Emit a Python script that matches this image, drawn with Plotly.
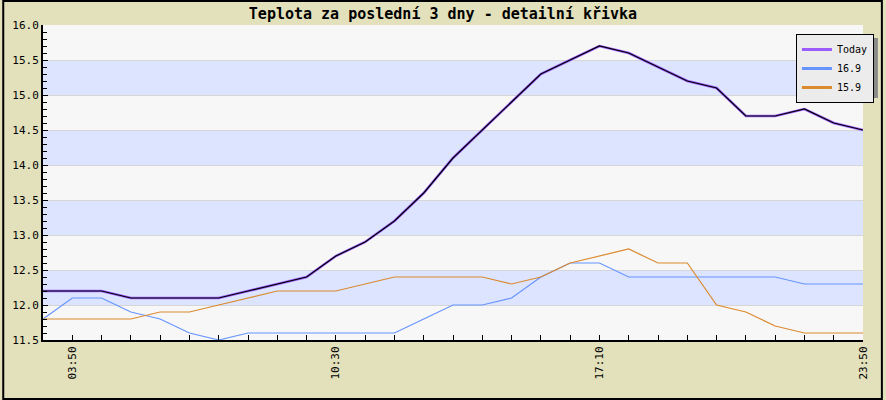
import plotly.graph_objects as go

title = "Teplota za poslední 3 dny - detailní křivka"
series_names = ["Today", "16.9", "15.9"]
today = [12.2, 12.2, 12.2, 12.1, 12.1, 12.1, 12.1, 12.2, 12.3, 12.4, 12.7, 12.9, 13.2, 13.6, 14.1,
         14.5, 14.9, 15.3, 15.5, 15.7, 15.6, 15.4, 15.2, 15.1, 14.7, 14.7, 14.8, 14.6, 14.5]
day_16_9 = [11.8, 12.1, 12.1, 11.9, 11.8, 11.6, 11.5, 11.6, 11.6, 11.6, 11.6, 11.6, 11.6, 11.8, 12.0,
            12.0, 12.1, 12.4, 12.6, 12.6, 12.4, 12.4, 12.4, 12.4, 12.4, 12.4, 12.3, 12.3, 12.3]
day_15_9 = [11.8, 11.8, 11.8, 11.8, 11.9, 11.9, 12.0, 12.1, 12.2, 12.2, 12.2, 12.3, 12.4, 12.4, 12.4,
            12.4, 12.3, 12.4, 12.6, 12.7, 12.8, 12.6, 12.6, 12.0, 11.9, 11.7, 11.6, 11.6, 11.6]
label_index = [1, 10, 19, 28]
label_text = ["03:50", "10:30", "17:10", "23:50"]
y_ticks = [11.5, 12.0, 12.5, 13.0, 13.5, 14.0, 14.5, 15.0, 15.5, 16.0]
band_low = [12.0, 13.0, 14.0, 15.0]

n = len(today)
x = list(range(n))
ticktext = [""] * n
for i, t in zip(label_index, label_text):
    ticktext[i] = t

W, H = 886, 400
ml, mr, mt, mb = 41, 20, 25, 60
pw, ph = W - ml - mr, H - mt - mb

BG = "#e3e0bc"
PURPLE = "#9a5cff"
BLUE = "#6694ff"
ORANGE = "#db8a2e"
FONT = "DejaVu Sans Mono"

fig = go.Figure()
fig.add_trace(go.Scatter(x=x, y=day_16_9, mode="lines", showlegend=False,
                         line=dict(color=BLUE, width=1.2)))
fig.add_trace(go.Scatter(x=x, y=day_15_9, mode="lines", showlegend=False,
                         line=dict(color=ORANGE, width=1.2)))
fig.add_trace(go.Scatter(x=x, y=today, mode="lines", showlegend=False,
                         line=dict(color=PURPLE, width=2.6)))
fig.add_trace(go.Scatter(x=x, y=today, mode="lines", showlegend=False, hoverinfo="skip",
                         line=dict(color="#000000", width=1.2)))
# legend entries with thick sample lines
for name, col in zip(series_names, [PURPLE, BLUE, ORANGE]):
    fig.add_trace(go.Scatter(x=[None], y=[None], mode="lines", name=name,
                             line=dict(color=col, width=3)))

shapes = []
for b in band_low:
    shapes.append(dict(type="rect", xref="paper", yref="y", x0=0, x1=1, y0=b, y1=b + 0.5,
                       fillcolor="#dde4ff", line=dict(width=0), layer="below"))
# legend shadow (legend box approx 796..877 x 35..94 px)
lx0, lx1, ly0, ly1 = 796, 877, 34, 94
shapes.append(dict(type="rect", xref="paper", yref="paper",
                   x0=(lx0 + 4 - ml) / pw, x1=(lx1 + 4 - ml) / pw,
                   y0=(mt + ph - (ly1 + 4)) / ph, y1=(mt + ph - (ly0 + 4)) / ph,
                   fillcolor="#8a8a8a", line=dict(width=0), layer="above"))
# outer frame
shapes.append(dict(type="rect", xref="paper", yref="paper",
                   x0=(1 - ml) / pw, x1=(W - 1 - ml) / pw,
                   y0=-(H - 1 - mt - ph) / ph, y1=(mt + ph - 1) / ph,
                   line=dict(color="#000000", width=2), fillcolor="rgba(0,0,0,0)", layer="above"))

fig.update_layout(
    width=W, height=H,
    margin=dict(l=ml, r=mr, t=mt, b=mb),
    paper_bgcolor=BG, plot_bgcolor="#f7f7f7",
    title=dict(text="<b>" + title + "</b>", x=0.5, xanchor="center", y=1 - 14 / H, yanchor="middle",
               font=dict(family=FONT, size=15, color="#000000")),
    showlegend=True,
    legend=dict(x=(lx1 - ml) / pw, xanchor="right", y=(mt + ph - ly0) / ph, yanchor="top",
                bgcolor="#ececec", bordercolor="#000000", borderwidth=1,
                font=dict(family=FONT, size=10, color="#000000"),
                traceorder="normal", itemwidth=30, tracegroupgap=0),
    shapes=shapes,
    font=dict(family=FONT, size=11, color="#000000"),
)

fig.update_xaxes(range=[0, n - 1], tickmode="array", tickvals=x, ticktext=ticktext,
                 tickangle=-90, ticks="inside", ticklen=5, tickcolor="#000000", tickwidth=1,
                 showline=True, linecolor="#000000", linewidth=2, showgrid=False, zeroline=False,
                 tickfont=dict(family=FONT, size=11, color="#000000"))
fig.update_yaxes(range=[11.5, 16.0], tickmode="array", tickvals=y_ticks,
                 ticktext=[f"{v:.1f}" for v in y_ticks],
                 ticks="inside", ticklen=5, tickcolor="#000000", tickwidth=1,
                 minor=dict(dtick=0.1, ticks="inside", ticklen=4, tickcolor="#000000", showgrid=False),
                 showline=True, linecolor="#000000", linewidth=2,
                 showgrid=True, gridcolor="#d6d6d6", gridwidth=1, zeroline=False,
                 tickfont=dict(family=FONT, size=11, color="#000000"))

fig.write_html("out.html")
